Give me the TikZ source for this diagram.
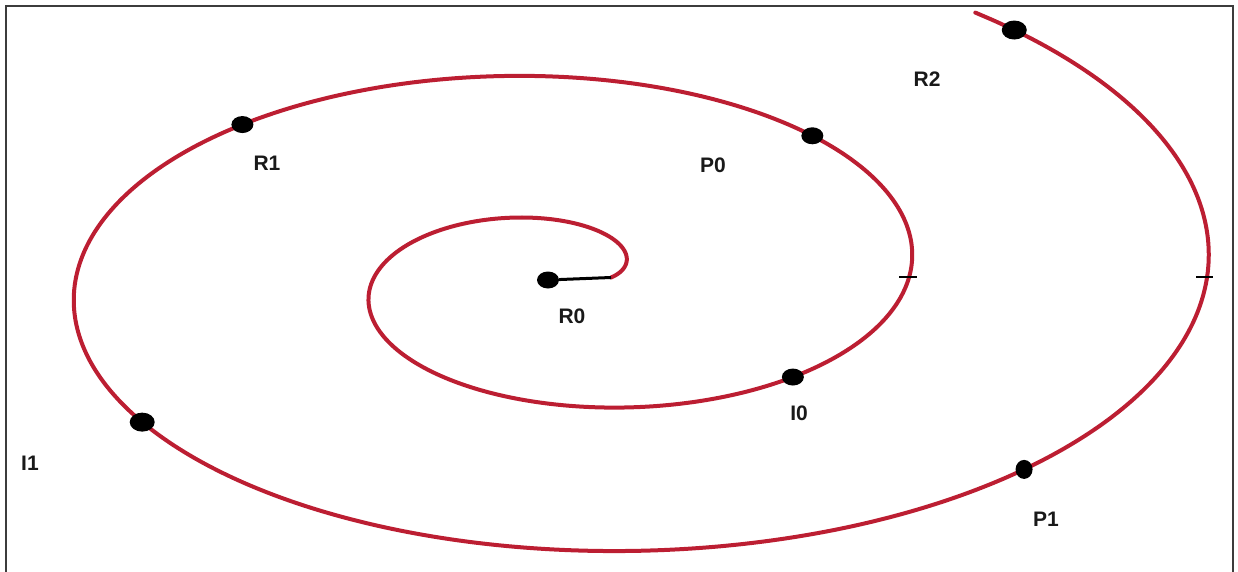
\documentclass[tikz,border=0pt]{standalone}
\usepackage{fontspec}
\setmainfont{Liberation Sans}
\usepackage{tikz}
\usetikzlibrary{shapes.geometric}
\definecolor{spiralred}{RGB}{188,30,50}
\definecolor{framegray}{RGB}{60,60,60}

\begin{document}
\begin{tikzpicture}[x=1pt,y=-1pt,
  declare function={spx(\t)=567+(44+47.43*\t)*cos(\t r);
                    spy(\t)=277.5-(19.7+23*\t)*sin(\t r);},
  dot/.style={ellipse,fill=black,inner sep=0pt,minimum width=22pt,minimum height=17pt},
  lbl/.style={font=\fontsize{21}{24}\selectfont\bfseries,text=black!90,inner sep=0pt},
  spiral/.style={spiralred,line width=4pt,line cap=round}]
  \useasboundingbox (0,0) rectangle (1238,572);
  % open frame, no bottom side
  \draw[framegray,line width=2.5pt] (6,572) -- (6,6) -- (1233,6) -- (1233,572);
  % the spiral, inside out
  \draw[spiral] plot[domain=0:13.5,samples=400,smooth,variable=\t]
    ({spx(\t)},{spy(\t)});
  % points on the spiral
  \node[dot] (R0) at (548,280) {};
  \coordinate (hook) at ({spx(0)},{spy(0)});
  \node[dot] (I0) at ({spx(5.54)},{spy(5.54)}) {};
  \node[dot] (P0) at ({spx(7.16)},{spy(7.16)}) {};
  \node[dot] (R1) at ({spx(8.65)},{spy(8.65)}) {};
  \node[dot,minimum width=25pt,minimum height=19pt] (I1) at ({spx(10.04)},{spy(10.04)}) {};
  \node[dot,minimum width=17pt,minimum height=19pt] (P1) at ({spx(11.85)},{spy(11.85)}) {};
  \node[dot,minimum width=25pt,minimum height=19pt] (R2) at ({spx(13.42)},{spy(13.42)}) {};
  % black tail at the centre
  \draw[line width=3pt] (R0) -- (hook);
  % tick marks across the right side
  \draw[line width=2pt] (899,277) -- (917,277);
  \draw[line width=2pt] (1196,277) -- (1213,277);
  % labels
  \node[lbl] (R0l) at (572,316) {R0};
  \node[lbl] (I0l) at (799,413) {I0};
  \node[lbl] (P0l) at (713,165) {P0};
  \node[lbl] (R1l) at (267,163) {R1};
  \node[lbl] (I1l) at (30,463) {I1};
  \node[lbl] (P1l) at (1046,519) {P1};
  \node[lbl] (R2l) at (927,79) {R2};
\end{tikzpicture}
\end{document}
